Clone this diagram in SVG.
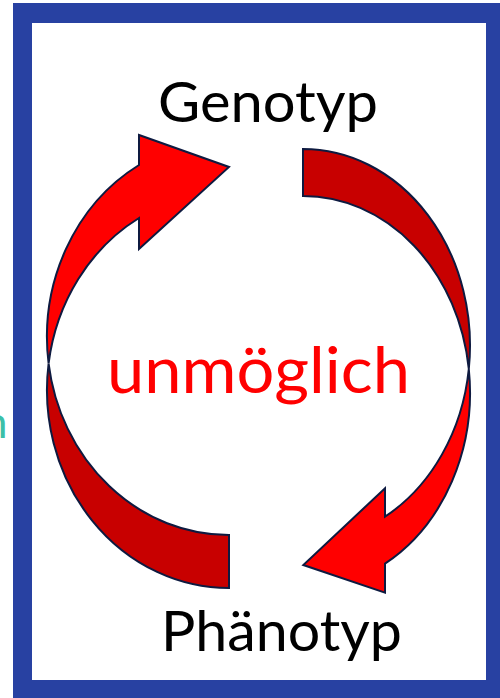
<svg xmlns="http://www.w3.org/2000/svg" width="500" height="698" viewBox="0 0 500 698">
  <style>
    .lbl { font-family: Lato, "Open Sans", "Liberation Sans", sans-serif; }
    .node { fill: #000000; font-size: 56px; }
    .bright { fill: #FF0000; stroke: #0E1A40; stroke-width: 2; stroke-linejoin: miter; }
    .dark { fill: #C80000; stroke: #0E1A40; stroke-width: 2; stroke-linejoin: miter; }
  </style>
  <rect x="0" y="0" width="500" height="698" fill="#FFFFFF"/>
  <text class="lbl" x="-17" y="438" font-size="44" fill="#3CBFA8">h</text>
  <g id="frame">
    <rect x="13" y="3" width="490" height="698" fill="#2841A2"/>
    <rect x="32" y="23" width="454" height="657" fill="#FFFFFF"/>
  </g>
  <g id="connectors">
    <path class="dark" d="M 48.6 363.5 A 182 198 0 0 0 229 588 L 229 535 A 182 198 0 0 1 48.6 363.5 Z"/>
    <path class="bright" d="M 48.6 363.5 A 182 198 0 0 1 139 165 L 139 135 L 229 167 L 139 249 L 139 218 A 182 198 0 0 0 48.6 363.5 Z"/>
    <path class="dark" d="M 303 149 A 167 196.5 0 0 1 468.8 369 A 167 196.5 0 0 0 303 196 Z"/>
    <path class="bright" d="M 468.8 369 A 167 196.5 0 0 1 385 563.7 L 385 592.7 L 303.3 565 L 385 488.3 L 385 516.7 A 167 196.5 0 0 0 468.8 369 Z"/>
  </g>
  <g id="genotyp">
    <text class="lbl node" x="158" y="122" textLength="220" lengthAdjust="spacingAndGlyphs">Genotyp</text>
  </g>
  <g id="phaenotyp">
    <text class="lbl node" x="161" y="651" textLength="241" lengthAdjust="spacingAndGlyphs">Phänotyp</text>
  </g>
  <g id="unmoeglich">
    <text class="lbl" x="107" y="393" font-size="64" fill="#FF0000" textLength="303" lengthAdjust="spacingAndGlyphs">unmöglich</text>
  </g>
</svg>
